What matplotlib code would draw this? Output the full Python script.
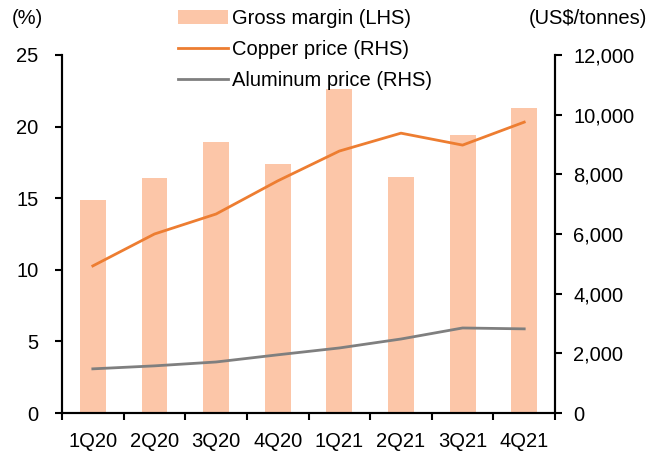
import matplotlib.pyplot as plt
import numpy as np

plt.rcParams['font.family'] = ['Liberation Sans', 'DejaVu Sans']

# data
quarters = ["1Q20", "2Q20", "3Q20", "4Q20", "1Q21", "2Q21", "3Q21", "4Q21"]
gross_margin = [14.9, 16.4, 18.9, 17.4, 22.6, 16.5, 19.4, 21.3]
copper_price = [4930, 6000, 6670, 7780, 8780, 9380, 8980, 9750]
aluminum_price = [1480, 1580, 1710, 1950, 2180, 2480, 2850, 2820]

fs = 14.5

fig = plt.figure(figsize=(6.57, 4.53), dpi=100)
ax = fig.add_axes([0.0944, 0.0883, 0.7504, 0.7903])
ax2 = ax.twinx()

x = np.arange(len(quarters))
bars = ax.bar(x, gross_margin, width=0.42, color="#FCC6A8", label="Gross margin (LHS)", zorder=1)
l1, = ax2.plot(x, copper_price, color="#ED7D31", lw=2, label="Copper price (RHS)")
l2, = ax2.plot(x, aluminum_price, color="#7F7F7F", lw=2, label="Aluminum price (RHS)")

ax.set_xlim(-0.5, len(quarters) - 0.5)
ax.set_ylim(0, 25)
ax.set_yticks([0, 5, 10, 15, 20, 25])
ax2.set_ylim(0, 12000)
ax2.set_yticks(range(0, 12001, 2000))
ax2.set_yticklabels([f"{v:,}" for v in range(0, 12001, 2000)])

# category labels in the middle, ticks at the boundaries
ax.set_xticks(x)
ax.set_xticklabels(quarters)
ax.tick_params(axis="x", length=0, labelsize=fs, pad=14)
ax.set_xticks(np.arange(-0.5, len(quarters), 1), minor=True)
ax.tick_params(axis="x", which="minor", length=5, width=1.5, direction="out")

ax.tick_params(axis="y", labelsize=fs, length=5, width=1.5, direction="out", pad=12)
ax2.tick_params(axis="y", labelsize=fs, length=5, width=1.5, direction="out", pad=8)

for a in (ax, ax2):
    a.spines["top"].set_visible(False)
    for s in ("left", "right", "bottom"):
        a.spines[s].set_linewidth(1.5)

fig.text(0.018, 0.96, "(%)", fontsize=fs, va="center", ha="left")
fig.text(0.985, 0.96, "(US$/tonnes)", fontsize=fs, va="center", ha="right")

ax.legend([bars, l1, l2], [bars.get_label(), l1.get_label(), l2.get_label()],
          loc="upper left", bbox_to_anchor=(0.271, 0.98), bbox_transform=fig.transFigure,
          frameon=False, fontsize=fs, handlelength=2.5, handletextpad=0.2,
          labelspacing=0.6, borderpad=0, borderaxespad=0)

fig.savefig("out.png", dpi=100)
